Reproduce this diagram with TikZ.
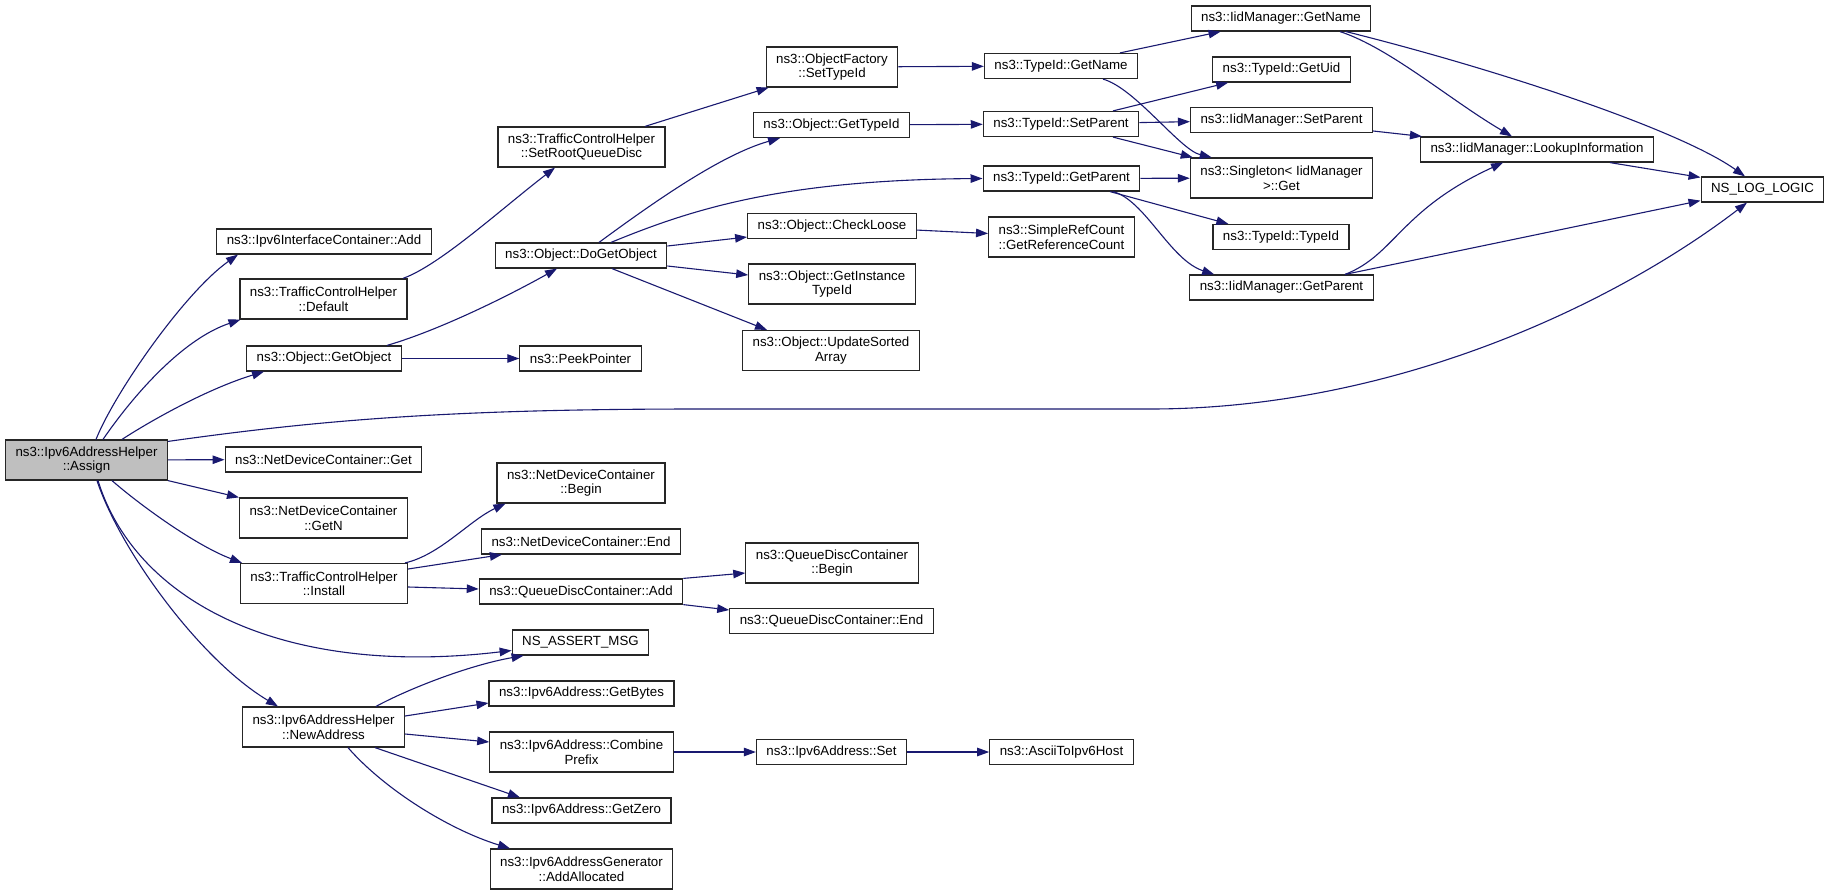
\documentclass[tikz,border=0pt]{standalone}
\usepackage{fontspec}
\setmainfont{Liberation Sans}
\usepackage{tikz}
\usetikzlibrary{arrows.meta,positioning,calc}
\usepackage{xcolor}
\definecolor{edgeblue}{RGB}{25,25,112}
\definecolor{rootgray}{RGB}{191,191,191}

\begin{document}
\begin{tikzpicture}[x=1pt, y=-1pt, >={Triangle[length=12pt,width=8.5pt]},
    fn/.style={draw=black!85, line width=1.2pt, fill=white, font=\fontsize{13.3}{14.5}\selectfont,
               align=center, inner xsep=10pt, inner ysep=2pt, minimum height=25pt},
    fntwo/.style={fn, minimum height=40pt},
    call/.style={->, draw=edgeblue, line width=1.1pt}]
                    \fill[white] (0,0) rectangle (1829,895);
                    \useasboundingbox (0,0) rectangle (1829,895);

                    % Level 0
                    \node[fntwo, fill=rootgray] (assign) at (86.5,460) {ns3::Ipv6AddressHelper\\::Assign};

                    % Level 1
                    \node[fn] (ifcadd) at (324,241.5) {ns3::Ipv6InterfaceContainer::Add};
                    \node[fntwo] (tchdefault) at (323.5,299) {ns3::TrafficControlHelper\\::Default};
                    \node[fn] (getobject) at (324,358.5) {ns3::Object::GetObject};
                    \node[fn] (ndcget) at (323.5,459.5) {ns3::NetDeviceContainer::Get};
                    \node[fntwo] (ndcgetn) at (323.5,518) {ns3::NetDeviceContainer\\::GetN};
                    \node[fntwo] (tchinstall) at (324,583.5) {ns3::TrafficControlHelper\\::Install};
                    \node[fntwo] (newaddress) at (323.5,727) {ns3::Ipv6AddressHelper\\::NewAddress};

                    % Level 2
                    \node[fntwo] (setroot) at (581.5,147) {ns3::TrafficControlHelper\\::SetRootQueueDisc};
                    \node[fn] (dogetobject) at (581,255.5) {ns3::Object::DoGetObject};
                    \node[fn] (peekpointer) at (580.5,358.5) {ns3::PeekPointer};
                    \node[fntwo] (ndcbegin) at (581,483) {ns3::NetDeviceContainer\\::Begin};
                    \node[fn] (ndcend) at (581,541.5) {ns3::NetDeviceContainer::End};
                    \node[fn] (qdcadd) at (581,591.5) {ns3::QueueDiscContainer::Add};
                    \node[fn] (assertmsg) at (580.5,642.5) {NS\_ASSERT\_MSG};
                    \node[fn] (getbytes) at (581.5,693.5) {ns3::Ipv6Address::GetBytes};
                    \node[fntwo] (combineprefix) at (581.5,752) {ns3::Ipv6Address::Combine\\Prefix};
                    \node[fn] (getzero) at (581.5,810.5) {ns3::Ipv6Address::GetZero};
                    \node[fntwo] (addallocated) at (581.5,869) {ns3::Ipv6AddressGenerator\\::AddAllocated};

                    % Level 3
                    \node[fntwo] (settypeid) at (832,67) {ns3::ObjectFactory\\::SetTypeId};
                    \node[fn] (gettypeid) at (831.5,125) {ns3::Object::GetTypeId};
                    \node[fn] (checkloose) at (832,226) {ns3::Object::CheckLoose};
                    \node[fntwo] (getinstance) at (832,284) {ns3::Object::GetInstance\\TypeId};
                    \node[fntwo] (updatesorted) at (831,350.5) {ns3::Object::UpdateSorted\\Array};
                    \node[fntwo] (qdcbegin) at (832,563) {ns3::QueueDiscContainer\\::Begin};
                    \node[fn] (qdcend) at (831.5,621) {ns3::QueueDiscContainer::End};
                    \node[fn] (addrset) at (831.5,752) {ns3::Ipv6Address::Set};

                    % Level 4
                    \node[fn] (tidgetname) at (1061,66) {ns3::TypeId::GetName};
                    \node[fn] (tidsetparent) at (1061,124) {ns3::TypeId::SetParent};
                    \node[fn] (tidgetparent) at (1061.5,178.5) {ns3::TypeId::GetParent};
                    \node[fntwo] (refcount) at (1061.5,237) {ns3::SimpleRefCount\\::GetReferenceCount};
                    \node[fn] (ascii) at (1061.5,752) {ns3::AsciiToIpv6Host};

                    % Level 5
                    \node[fn] (iidgetname) at (1281,18.5) {ns3::IidManager::GetName};
                    \node[fn] (getuid) at (1281.5,69.5) {ns3::TypeId::GetUid};
                    \node[fn] (iidsetparent) at (1281.5,120) {ns3::IidManager::SetParent};
                    \node[fntwo] (singleton) at (1281.5,178) {ns3::Singleton< IidManager\\>::Get};
                    \node[fn] (tidtypeid) at (1281,237) {ns3::TypeId::TypeId};
                    \node[fn] (iidgetparent) at (1281.5,287.5) {ns3::IidManager::GetParent};

                    % Level 6 and 7
                    \node[fn] (lookup) at (1537,149.5) {ns3::IidManager::LookupInformation};
                    \node[fn] (nslog) at (1762.5,189.5) {NS\_LOG\_LOGIC};

                    % Calls from Assign
                    \draw[call] ([xshift=9.5pt]assign.north) .. controls (115,392) and (185,292) .. ([xshift=-86pt]ifcadd.south);
                    \draw[call] ([xshift=16.5pt]assign.north) .. controls (130,400) and (180,340) .. ([xshift=-83pt]tchdefault.south);
                    \draw[call] ([xshift=35.5pt]assign.north) .. controls (155,418) and (210,388) .. ([xshift=-60pt]getobject.south);
                    \draw[call] ([yshift=-2pt]assign.north east) .. controls (320,420) and (450,409) .. (700,409) -- (1150,409)
                                .. controls (1400,409) and (1620,300) .. ([xshift=-15.5pt]nslog.south);
                    \draw[call] (assign) -- (ndcget);
                    \draw[call] (assign.south east) -- (ndcgetn.north west);
                    \draw[call] ([xshift=25.5pt]assign.south) .. controls (140,505) and (195,545) .. ([xshift=-82pt]tchinstall.north);
                    \draw[call] ([xshift=11.5pt]assign.south) .. controls (135,600) and (280,678) .. ([yshift=-8pt]assertmsg.west);
                    \draw[call] ([xshift=10.5pt]assign.south) .. controls (120,550) and (200,660) .. ([xshift=-45.5pt]newaddress.north);

                    % Level 1 calls
                    \draw[call] ([xshift=79.5pt]tchdefault.north) .. controls (440,265) and (500,210) .. ([xshift=-26.5pt]setroot.south);
                    \draw[call] ([xshift=63pt]getobject.north) .. controls (440,330) and (510,295) .. ([xshift=-24pt]dogetobject.south);
                    \draw[call] (getobject) -- (peekpointer);
                    \draw[call] ([xshift=81pt]tchinstall.north) .. controls (440,555) and (470,520) .. ([xshift=9pt]ndcbegin.south west);
                    \draw[call] ([yshift=14.5pt]tchinstall.east) -- ([xshift=21pt]ndcend.south west);
                    \draw[call] ([yshift=-3.5pt]tchinstall.east) -- ([yshift=2.5pt]qdcadd.west);
                    \draw[call] ([xshift=52.5pt]newaddress.north) .. controls (410,688) and (470,665) .. ([xshift=12pt]assertmsg.south west);
                    \draw[call] ([yshift=11pt]newaddress.east) -- ([yshift=-9.5pt]getbytes.west);
                    \draw[call] ([yshift=-7pt]newaddress.east) -- ([yshift=10pt]combineprefix.west);
                    \draw[call] ([xshift=51.5pt]newaddress.south) -- ([xshift=-61.5pt]getzero.north);
                    \draw[call] ([xshift=24.5pt]newaddress.south) .. controls (385,790) and (450,830) .. ([xshift=-71.5pt]addallocated.north);

                    % Level 2 calls
                    \draw[call] ([xshift=63.5pt]setroot.north) -- ([xshift=3pt]settypeid.south west);
                    \draw[call] ([xshift=18pt]dogetobject.north) .. controls (650,205) and (720,155) .. ([xshift=-51.5pt]gettypeid.south);
                    \draw[call] ([xshift=30pt]dogetobject.north) .. controls (690,210) and (780,180) .. (tidgetparent.west);
                    \draw[call] ([yshift=9.5pt]dogetobject.east) -- ([yshift=-11pt]checkloose.west);
                    \draw[call] ([yshift=-10.5pt]dogetobject.east) -- ([yshift=9pt]getinstance.west);
                    \draw[call] ([xshift=31pt]dogetobject.south) -- ([xshift=-64pt]updatesorted.north);
                    \draw[call] (qdcadd.north east) -- ([yshift=-10pt]qdcbegin.west);
                    \draw[call] (qdcadd.south east) -- ([yshift=11pt]qdcend.west);
                    \draw[call] (combineprefix) -- (addrset);

                    % Level 3 calls
                    \draw[call] (settypeid) -- (tidgetname);
                    \draw[call] (gettypeid) -- (tidsetparent);
                    \draw[call] (checkloose) -- (refcount);
                    \draw[call] (addrset) -- (ascii);

                    % Level 4 calls
                    \draw[call] ([xshift=59pt]tidgetname.north) -- ([xshift=30pt]iidgetname.south west);
                    \draw[call] ([xshift=42pt]tidgetname.south) .. controls (1135,88) and (1180,150) .. ([xshift=22pt]singleton.north west);
                    \draw[call] ([xshift=52pt]tidsetparent.north) -- ([xshift=16pt]getuid.south west);
                    \draw[call] (tidsetparent) -- (iidsetparent);
                    \draw[call] ([xshift=52pt]tidsetparent.south) -- ([xshift=3pt]singleton.north west);
                    \draw[call] (tidgetparent) -- (singleton);
                    \draw[call] ([xshift=48.5pt]tidgetparent.south) -- ([xshift=16pt]tidtypeid.north west);
                    \draw[call] ([xshift=51.5pt]tidgetparent.south) .. controls (1145,200) and (1170,260) .. ([xshift=25pt]iidgetparent.north west);

                    % Level 5 and 6 calls
                    \draw[call] ([xshift=59pt]iidgetname.south) .. controls (1390,48) and (1450,100) .. ([xshift=-25pt]lookup.north);
                    \draw[call] ([xshift=65pt]iidgetname.south) .. controls (1500,70) and (1680,130) .. ([xshift=-17.5pt]nslog.north);
                    \draw[call] ([yshift=-11pt]iidsetparent.east) -- ([xshift=2pt]lookup.north west);
                    \draw[call] ([xshift=63.5pt]iidgetparent.north) .. controls (1395,255) and (1400,210) .. ([xshift=-34pt]lookup.south);
                    \draw[call] ([xshift=63.5pt]iidgetparent.north) -- ([yshift=2pt]nslog.south west);
                    \draw[call] ([xshift=73pt]lookup.south) -- ([yshift=-1pt]nslog.north west);
                \end{tikzpicture}
\end{document}
